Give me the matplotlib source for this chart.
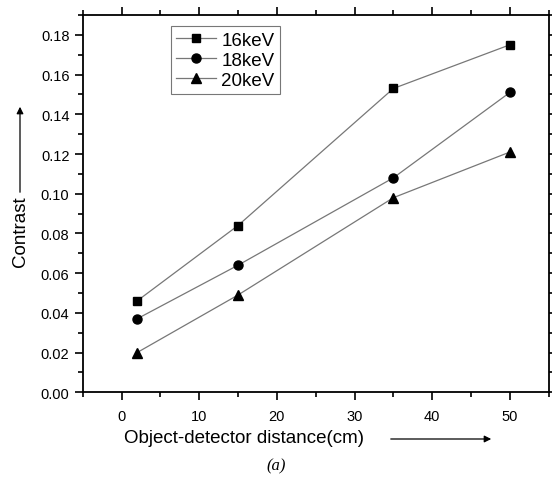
import matplotlib
matplotlib.use("Agg")
import matplotlib.pyplot as plt
from matplotlib.ticker import MultipleLocator

plt.rcParams["font.family"] = ["Liberation Sans", "DejaVu Sans"]

distance = [2, 15, 35, 50]
series_names = ["16keV", "18keV", "20keV"]
contrast_16 = [0.046, 0.084, 0.153, 0.175]
contrast_18 = [0.037, 0.064, 0.108, 0.151]
contrast_20 = [0.020, 0.049, 0.098, 0.121]
markers = ["s", "o", "^"]
marker_sizes = [5.5, 6.5, 7]

fig = plt.figure(figsize=(5.52, 4.81), dpi=100)
ax = fig.add_axes([0.1498, 0.1823, 0.8442, 0.7844])

for vals, name, m, ms in zip([contrast_16, contrast_18, contrast_20], series_names, markers, marker_sizes):
    ax.plot(distance, vals, color="#777777", lw=0.9, marker=m, ms=ms,
            mfc="black", mec="black", label=name)

ax.set_xlim(-5, 55)
ax.set_ylim(0, 0.19)
ax.xaxis.set_major_locator(MultipleLocator(10))
ax.xaxis.set_minor_locator(MultipleLocator(5))
ax.yaxis.set_minor_locator(MultipleLocator(0.01))
ax.set_yticks([0.00, 0.02, 0.04, 0.06, 0.08, 0.10, 0.12, 0.14, 0.16, 0.18])
ax.set_yticklabels(["0.00", "0.02", "0.04", "0.06", "0.08", "0.10", "0.12", "0.14", "0.16", "0.18"])

ax.tick_params(which="both", direction="out", top=True, right=True, labelsize=10.5, width=1.2)
ax.tick_params(which="major", length=6)
ax.tick_params(which="minor", length=3.5)
ax.tick_params(axis="x", pad=6)
for s in ax.spines.values():
    s.set_linewidth(1.3)

leg = ax.legend(loc="upper left", bbox_to_anchor=(0.189, 0.971), fontsize=13.5,
                frameon=True, fancybox=False, handlelength=2.1, handletextpad=0.3,
                labelspacing=0.15, borderpad=0.3, borderaxespad=0)
leg.get_frame().set_edgecolor("#555555")
leg.get_frame().set_linewidth(0.8)

# axis labels with arrows, as in the original figure
fig.text(244 / 552, 1 - 439 / 481, "Object-detector distance(cm)", fontsize=13.5, ha="center", va="center")
fig.text(20 / 552, 1 - 232 / 481, "Contrast", fontsize=13.5, rotation=90, ha="center", va="center")
ax.annotate("", xy=(494 / 552, 1 - 440 / 481), xytext=(388 / 552, 1 - 440 / 481),
            xycoords="figure fraction", textcoords="figure fraction",
            arrowprops=dict(arrowstyle="-|>", color="black", lw=0.9, mutation_scale=10))
ax.annotate("", xy=(20 / 552, 1 - 105 / 481), xytext=(20 / 552, 1 - 196 / 481),
            xycoords="figure fraction", textcoords="figure fraction",
            arrowprops=dict(arrowstyle="-|>", color="black", lw=0.9, mutation_scale=10))

fig.text(276 / 552, 1 - 466 / 481, "(a)", fontsize=12, ha="center", va="center",
         family=["Liberation Serif", "DejaVu Serif"], style="italic")

fig.savefig("out.png", dpi=100)
